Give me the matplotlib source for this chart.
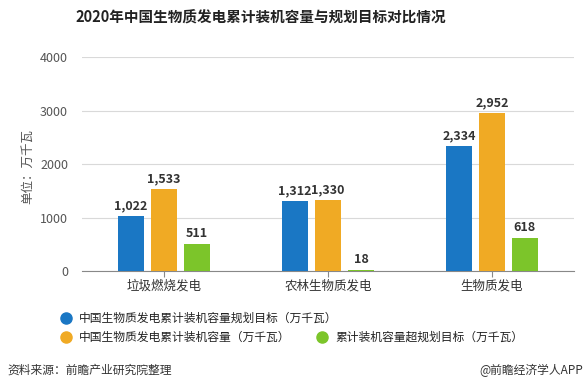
import matplotlib

matplotlib.use("Agg")
import matplotlib.pyplot as plt
import numpy as np
from matplotlib.lines import Line2D

plt.rcParams["font.family"] = ["Noto Sans CJK SC", "DejaVu Sans"]

categories = ["垃圾燃烧发电", "农林生物质发电", "生物质发电"]
series_names = [
    "中国生物质发电累计装机容量规划目标（万千瓦）",
    "中国生物质发电累计装机容量（万千瓦）",
    "累计装机容量超规划目标（万千瓦）",
]
target = [1022, 1312, 2334]
installed = [1533, 1330, 2952]
excess = [511, 18, 618]
colors = ["#1a77c4", "#f0aa24", "#7cc52a"]

fig = plt.figure(figsize=(5.88, 3.9), dpi=100)
ax = fig.add_axes([0.1395, 0.3051, 0.8367, 0.5487])

x = np.arange(len(categories))
width = 0.158
step = 0.201
for i, (vals, c) in enumerate(zip([target, installed, excess], colors)):
    pos = x + (i - 1) * step
    ax.bar(pos, vals, width=width, color=c, zorder=3)
    for p, v in zip(pos, vals):
        ax.text(p, v + 70, f"{v:,}", ha="center", va="bottom",
                fontsize=9, fontweight="bold", color="#333333")

ax.set_xlim(-0.5, 2.5)
ax.set_ylim(0, 4000)
ax.set_yticks([0, 1000, 2000, 3000, 4000])
ax.set_xticks(x)
ax.set_xticklabels(categories, fontsize=9, color="#333333")
ax.tick_params(axis="y", length=0, labelsize=9, labelcolor="#555555", pad=10)
ax.tick_params(axis="x", length=4, color="#888888", pad=2)
ax.yaxis.grid(True, color="#d9d9d9", linewidth=0.8, zorder=0)
for s in ["top", "right", "left"]:
    ax.spines[s].set_visible(False)
ax.spines["bottom"].set_color("#888888")
ax.set_ylabel("单位：万千瓦", fontsize=9, color="#555555")
ax.yaxis.set_label_coords(-0.098, 0.49)

fig.text(0.444, 0.955, "2020年中国生物质发电累计装机容量与规划目标对比情况",
         ha="center", va="center", fontsize=10.5, fontweight="bold", color="#222222")

# legend rows
legend_pos = [(0.112, 0.185), (0.112, 0.136), (0.548, 0.136)]
for (lx, ly), name, c in zip(legend_pos, series_names, colors):
    fig.add_artist(Line2D([lx], [ly], marker="o", markersize=8, color=c,
                          transform=fig.transFigure))
    fig.text(lx + 0.022, ly, name, ha="left", va="center", fontsize=8.5, color="#222222")

fig.text(0.012, 0.051, "资料来源：前瞻产业研究院整理", ha="left", va="center",
         fontsize=8.5, color="#333333")
fig.text(0.992, 0.051, "@前瞻经济学人APP", ha="right", va="center",
         fontsize=8.5, color="#333333")

fig.savefig("out.png", dpi=100)
